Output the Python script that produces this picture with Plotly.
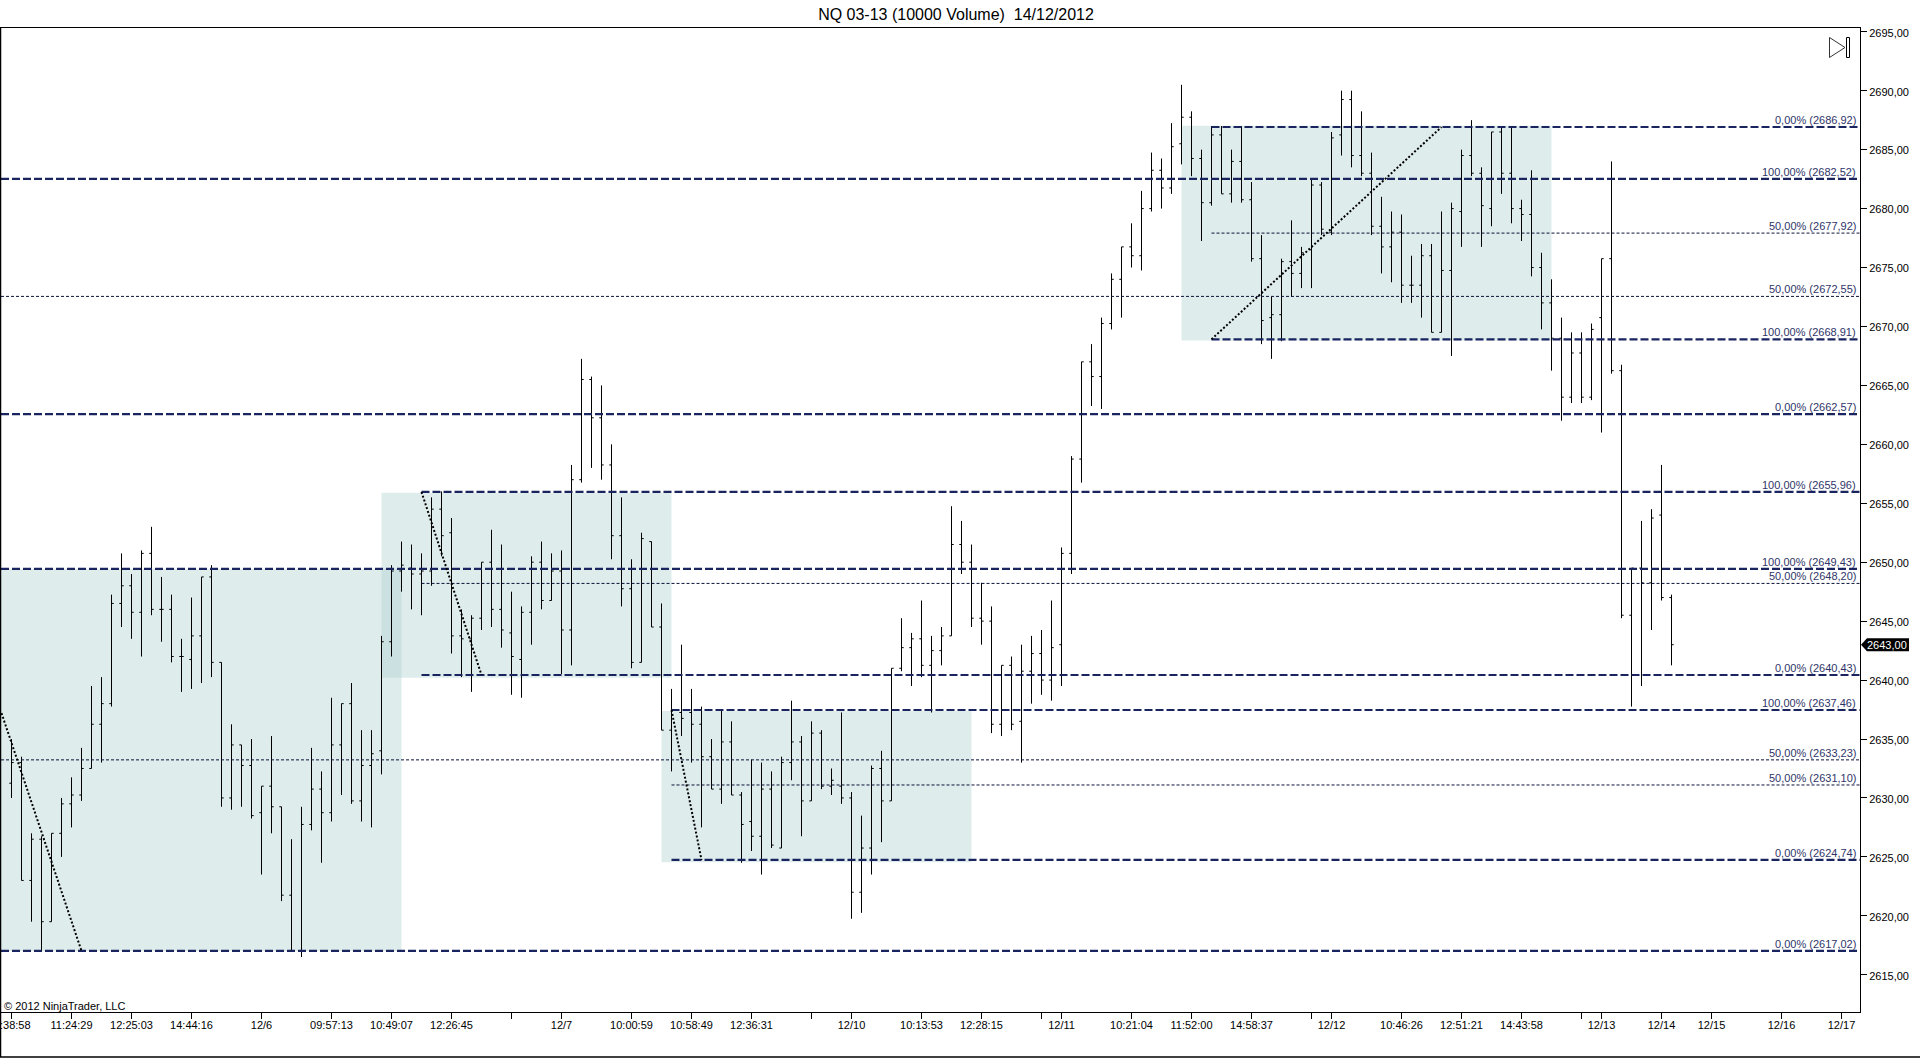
import plotly.graph_objects as go

TITLE = "NQ 03-13 (10000 Volume)  14/12/2012"

bar_index = list(range(1, 168))
opens = [2631.25,2633,2623,2626.5,2619.5,2627,2629.5,2630.25,2632.5,2636.25,
 2638,2646.5,2648,2645.75,2650.75,2646,2646,2642,2641.75,2643.75,
 2648.75,2641.5,2630,2634.5,2632.75,2628.75,2631,2629.25,2621.75,2617,
 2627.75,2630.75,2628.75,2634.5,2638,2629.75,2632.75,2634,2643.25,2649.25,
 2649.5,2649,2649.25,2654.5,2652.5,2643.75,2643.5,2645.25,2650,2646,
 2644,2641.75,2645.75,2650,2646.75,2649.25,2644.25,2657,2665.5,2662.25,
 2658.25,2652.25,2647.75,2641.5,2651.75,2644.5,2635.75,2637.25,2637.25,2636.25,
 2633.5,2630.75,2634.75,2630.25,2628,2626.75,2630.75,2625.75,2633,2634.75,
 2629.75,2635.5,2631,2631,2630,2622,2625.75,2632.5,2629.75,2641,
 2642.75,2643.5,2641.25,2642.5,2643.75,2651.5,2650,2645.25,2645,2636.25,
 2641.25,2636.5,2640.75,2642.25,2640,2643,2650.75,2658.75,2667,2665.75,
 2670.25,2674,2676.75,2676,2680,2683.25,2681.75,2685.5,2687.75,2684.25,
 2680.5,2686.25,2681.25,2684,2680.75,2675.75,2670.75,2671,2675.5,2674.5,
 2676.5,2682,2678,2686.25,2689.25,2684.5,2683,2678.5,2676.75,2678,
 2673.5,2673.5,2676,2669.5,2674.75,2679.75,2684.5,2683,2680,2686.5,
 2683,2680,2679.5,2675,2672,2669,2664,2667.75,2664,2670.75,
 2675.75,2666.25,2645.5,2649.5,2648.25,2654,2647]
highs = [2635,2633.5,2627,2626.75,2627,2630,2631.75,2634.25,2639.5,2640.25,
 2647.25,2650.75,2649,2651,2653,2648.75,2647.25,2643.5,2647,2648.75,
 2649.75,2641.5,2636.25,2634.5,2635,2631,2635.25,2629.25,2626.5,2629.25,
 2634.25,2632.25,2638.5,2638,2639.75,2635.75,2635.75,2643.75,2649.75,2651.75,
 2651.5,2650.75,2655.5,2656,2653.75,2646,2645.5,2650,2652.75,2651.5,
 2647.5,2646.25,2650.5,2651.75,2650.75,2651,2658.25,2667.25,2665.75,2665,
 2660,2655.5,2650.25,2652.5,2651.75,2646.5,2639.25,2643,2639.25,2637.75,
 2635,2637.5,2636.5,2630.5,2633.25,2633,2632.25,2633.5,2638.25,2635.25,
 2636.5,2635.75,2632.5,2637.25,2630.5,2628.5,2632.75,2634,2641,2645.25,
 2644,2646.75,2643.75,2644.5,2654.75,2653.5,2651.5,2648.25,2646.25,2641.25,
 2642,2643,2643.75,2644.25,2646.75,2651.25,2659,2667,2668.5,2670.75,
 2674.5,2676.75,2678.75,2681.5,2684.75,2684.25,2687.25,2690.5,2688.25,2685,
 2687,2687,2685,2687,2682.25,2677.75,2672.5,2675.75,2679,2676.75,
 2682.5,2682.25,2686.5,2690,2690,2688.25,2684.75,2681,2679.75,2679.5,
 2676,2677,2677,2679.75,2680.5,2685,2687.5,2683.5,2686.5,2687,
 2687,2680.75,2683.25,2676.25,2674,2670.75,2669.5,2669.5,2670.25,2675.75,
 2684,2666.75,2649.5,2653.5,2654.5,2658.25,2647.25]
lows = [2630,2623,2619.5,2617,2619.5,2625,2627.5,2629.75,2632.5,2633,
 2637.75,2644.5,2643.5,2642,2645.5,2643.25,2641.5,2639,2639.25,2639.75,
 2640.25,2629.25,2629,2629.25,2628.25,2623.5,2627,2621.25,2617,2616.5,
 2627.25,2624.5,2628,2630.25,2629.5,2628,2627.5,2632,2642,2647.5,
 2646,2645.5,2648,2650.5,2642.25,2640.25,2639,2644.25,2644.5,2642.75,
 2638.75,2638.5,2643,2646,2646.75,2640.5,2641.25,2656.75,2658,2657,
 2650.25,2646.25,2641,2641.5,2644.5,2635.75,2632.25,2635.25,2633,2627.5,
 2630.75,2629.5,2630.25,2624.5,2625.5,2623.5,2625.75,2625.75,2631.5,2626.75,
 2629.75,2630.75,2630.25,2629.5,2619.75,2620.25,2623.5,2626.25,2629.75,2640.75,
 2639.5,2640.25,2637.25,2641.25,2643.75,2649,2644.5,2643,2635.5,2635.25,
 2635.75,2633,2638,2638.75,2638.25,2639.5,2649,2656.75,2663.25,2663,
 2669.75,2670.75,2675,2674.75,2679.75,2680,2681.25,2683.75,2682.75,2677.25,
 2680.25,2681.25,2680.5,2680.5,2675.5,2668.5,2667.25,2668.75,2672.5,2673.25,
 2673.25,2677.75,2677.75,2684.5,2683.5,2682.75,2677.75,2674.5,2673.75,2672,
 2672,2670.75,2669.5,2669.5,2667.5,2676.75,2682.75,2676.75,2678.5,2681.25,
 2678.75,2677.25,2674.25,2669.75,2666.25,2662,2663.5,2663.5,2663.75,2661,
 2666,2645.25,2637.75,2639.5,2644.25,2646.75,2641.25]
closes = [2633,2623,2626.5,2619.5,2627,2629.5,2630.25,2632.5,2636.25,2638,
 2646.5,2648,2645.75,2650.75,2646,2646,2642,2642,2643.75,2648.75,
 2641.5,2630,2634.5,2632.75,2628.5,2631,2629.25,2621.75,2617,2627.75,
 2630.75,2628.75,2634.5,2638,2629.75,2632.75,2633.75,2643.25,2649.25,2649.75,
 2649,2649.25,2654.5,2652.25,2643.75,2643.5,2645.25,2650,2646,2644.25,
 2642,2645.75,2650,2646.75,2649.25,2644.25,2657,2665.5,2662.25,2658.25,
 2652.25,2647.75,2641.5,2652,2644.5,2635.75,2637.5,2636.75,2636.25,2633.5,
 2630.75,2634.75,2630.25,2627.75,2626.75,2630.75,2626,2633,2634.75,2629.75,
 2635.5,2631,2631.5,2630,2622,2625.75,2632.5,2629.75,2641,2642.75,
 2643.5,2641.25,2642.5,2643.75,2651.5,2650,2645.25,2645,2636.25,2641.25,
 2636.25,2640.75,2642.25,2640,2642.75,2650.75,2658.75,2667,2665.75,2670.25,
 2674,2676.75,2676,2680,2683.25,2681.75,2685.25,2687.75,2684.25,2680.5,
 2686.25,2681.25,2684,2680.75,2675.75,2670.5,2671,2675.5,2674.5,2676.25,
 2682,2678.25,2686,2689.25,2684.5,2683,2678.5,2676.75,2678,2673.5,
 2673.5,2676,2669.5,2674.75,2680,2684.5,2683,2680.25,2686.5,2683,
 2680,2679.5,2675,2672,2669,2664,2667.75,2664,2669.75,2675.75,
 2666.25,2645.5,2649.5,2648.25,2653.75,2647,2643]

tick_positions = [1,7,13,19,26,33,39,45,51,56,63,69,75,81,85,92,98,104,106,113,119,125,131,133,140,146,152,158,160,166,171,178,184]
tick_labels = ["","11:24:29","12:25:03","14:44:16","12/6","09:57:13","10:49:07","12:26:45","","12/7",
 "10:00:59","10:58:49","12:36:31","","12/10","10:13:53","12:28:15","","12/11","10:21:04","11:52:00","14:58:37",
 "","12/12","10:46:26","12:51:21","14:43:58","","12/13","12/14","12/15","12/16","12/17"]
clipped_first_label = ":38:58"

AXIS_START = -0.05
AXIS_END = 185.85
Y_MIN, Y_MAX = 2611.84, 2695.32
level_values = [2686.92,2682.52,2677.92,2672.55,2668.91,2662.57,2655.96,2649.43,2648.20,2640.43,2637.46,2633.23,2631.10,2624.74,2617.02]
level_pct = [0,100,50,50,100,0,100,100,50,0,100,50,50,0,0]
level_start = [121,AXIS_START,121,AXIS_START,121,AXIS_START,42,AXIS_START,42,42,67,AXIS_START,67,67,AXIS_START]

box_x0 = [AXIS_START,38,66,118]
box_x1 = [40,67,97,155]
box_top = [2649.43,2655.9,2637.38,2687.03]
box_bottom = [2617.02,2640.2,2624.55,2668.8]

trend_x0 = [0,42,67,121]
trend_x1 = [8,48,70,144]
trend_y0 = [2637.2,2655.96,2637.46,2668.91]
trend_y1 = [2617.02,2640.43,2624.74,2686.92]

# pixel layout of the window
W, H = 1920, 1058
PL, PR, PT, PB = 1, 1860, 28, 1012
def px(x):
    return (x - PL) / (PR - PL)
def py(y):
    return (PB - y) / (PB - PT)

NAVY = "#1a2560"
THIN = "#0c1238"
LABEL = "#2f3568"
FONT = "Liberation Sans"

fig = go.Figure()
shapes = []
for a, b, t, u in zip(box_x0, box_x1, box_top, box_bottom):
    shapes.append(dict(type="rect", xref="x", yref="y", x0=a, x1=b, y0=u, y1=t,
                       fillcolor="rgba(170,205,205,0.38)", line_width=0, layer="below"))

for v, p, s in zip(level_values, level_pct, level_start):
    thick = p != 50
    fig.add_trace(go.Scatter(x=[s, AXIS_END], y=[v, v], mode="lines", hoverinfo="skip",
                             line=dict(color=NAVY if thick else THIN, width=2.2 if thick else 1,
                                       dash="8px,3px" if thick else "3px,2px")))

for a, b, c, d in zip(trend_x0, trend_x1, trend_y0, trend_y1):
    fig.add_trace(go.Scatter(x=[a, b], y=[c, d], mode="lines", hoverinfo="skip",
                             line=dict(color="#000000", width=2, dash="2px,2px")))

fig.add_trace(go.Ohlc(x=bar_index, open=opens, high=highs, low=lows, close=closes, tickwidth=0.22,
                      increasing=dict(line=dict(color="#000000", width=1)),
                      decreasing=dict(line=dict(color="#000000", width=1)),
                      hoverinfo="skip"))

annotations = []
for v, p in zip(level_values, level_pct):
    val = f"{v:.2f}".replace(".", ",")
    annotations.append(dict(text=f"{p},00% ({val})", xref="paper", yref="y", x=px(1857), y=v, xanchor="right", yanchor="bottom",
                            showarrow=False, borderpad=0, font=dict(family=FONT, size=11, color=LABEL)))

annotations.append(dict(text="© 2012 NinjaTrader, LLC", xref="paper", yref="paper", x=px(2.5), y=py(1006),
                        xanchor="left", yanchor="middle", showarrow=False, borderpad=0,
                        font=dict(family=FONT, size=11, color="#000000")))
annotations.append(dict(text=clipped_first_label, xref="paper", yref="paper", x=px(31.6), y=py(1025),
                        xanchor="right", yanchor="middle", showarrow=False, borderpad=0,
                        font=dict(family=FONT, size=11, color="#000000")))

last = closes[-1]
annotations.append(dict(text=f"{last:.2f}".replace(".", ","), xref="paper", yref="y", x=px(1887), y=last,
                        xanchor="center", yanchor="middle", showarrow=False, borderpad=0,
                        font=dict(family=FONT, size=11, color="#ffffff")))

# outer frame (left and bottom window edges)
shapes.append(dict(type="line", xref="paper", yref="paper", x0=px(0), x1=px(W), y0=py(1057), y1=py(1057),
                   line=dict(color="#000000", width=1.5)))
shapes.append(dict(type="line", xref="paper", yref="paper", x0=px(0.5), x1=px(0.5), y0=py(1057), y1=py(27.5),
                   line=dict(color="#000000", width=1.5)))

# last-price tag
ty = PT + (Y_MAX - last) / (Y_MAX - Y_MIN) * (PB - PT)
shapes.append(dict(type="path", xref="paper", yref="paper", fillcolor="#000000", line_width=0,
                   path=f"M {px(1861)} {py(ty)} L {px(1867)} {py(ty-6.5)} L {px(1909)} {py(ty-6.5)} "
                        f"L {px(1909)} {py(ty+6.5)} L {px(1867)} {py(ty+6.5)} Z"))

# "scroll to end" icon
shapes.append(dict(type="path", xref="paper", yref="paper", line=dict(color="#333333", width=1), fillcolor="rgba(0,0,0,0)",
                   path=f"M {px(1829.5)} {py(37.5)} L {px(1845)} {py(47.5)} L {px(1829.5)} {py(57.5)} Z"))
shapes.append(dict(type="rect", xref="paper", yref="paper", line=dict(color="#000000", width=1), fillcolor="rgba(0,0,0,0)",
                   x0=px(1846.5), x1=px(1849.5), y0=py(57.5), y1=py(37.5)))

fig.update_layout(
    width=W, height=H, autosize=False,
    margin=dict(l=PL, r=W - PR, t=PT, b=H - PB, pad=0),
    paper_bgcolor="#ffffff", plot_bgcolor="#ffffff",
    showlegend=False, separators=",.", hovermode=False,
    font=dict(family=FONT, size=11, color="#000000"),
    title=dict(text=TITLE, x=956 / W, xref="container", xanchor="center", y=1 - 14.5 / H, yref="container",
               yanchor="middle", font=dict(family=FONT, size=16, color="#000000")),
    xaxis=dict(range=[AXIS_START, AXIS_END], tickmode="array", tickvals=tick_positions, ticktext=tick_labels,
               ticks="outside", ticklen=6, tickwidth=1, tickcolor="#000000", showgrid=False, zeroline=False,
               showline=True, linecolor="#000000", linewidth=1, mirror=True, rangeslider=dict(visible=False),
               tickangle=0, ticklabelstandoff=-3, tickfont=dict(family=FONT, size=11, color="#000000")),
    yaxis=dict(range=[Y_MIN, Y_MAX], side="right", tick0=2615, dtick=5, tickformat=".2f",
               ticks="outside", ticklen=6, tickwidth=1, tickcolor="#000000", showgrid=False, zeroline=False,
               showline=True, linecolor="#000000", linewidth=1, mirror=True, ticklabelshift=1,
               tickfont=dict(family=FONT, size=11, color="#000000")),
    shapes=shapes, annotations=annotations,
)

fig.write_html("out.html", config=dict(displayModeBar=False),
               post_script="document.body.style.margin='0';document.body.style.overflow='hidden';")
